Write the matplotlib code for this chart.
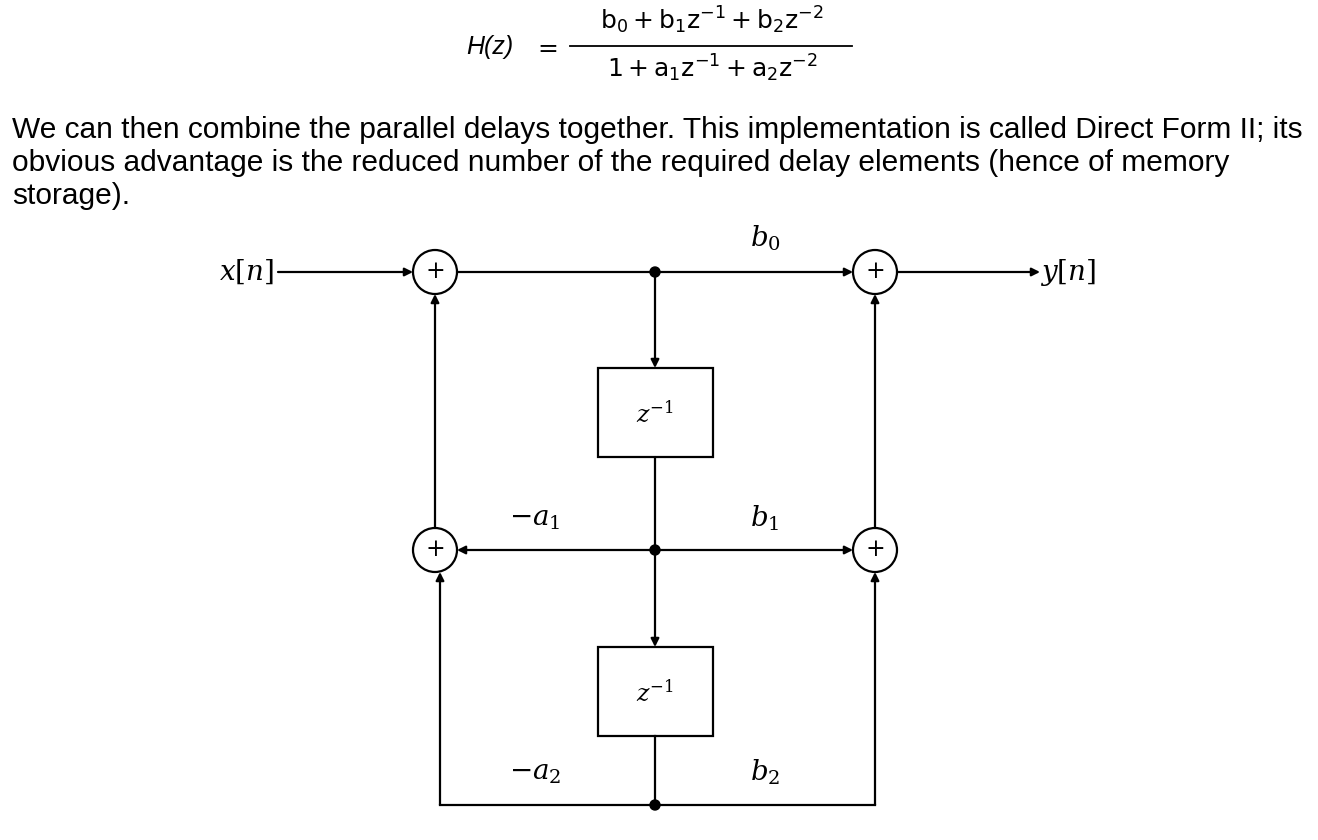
import matplotlib.pyplot as plt
from matplotlib.patches import Circle, Rectangle

# Direct Form II block diagram, drawn in pixel coordinates
paragraph = ["We can then combine the parallel delays together. This implementation is called Direct Form II; its",
             "obvious advantage is the reduced number of the required delay elements (hence of memory",
             "storage)."]
adders = [(435, 272), (875, 272), (435, 550), (875, 550)]
nodes = [(655, 272), (655, 550), (655, 805)]
delays = [(598, 368), (598, 647)]
gains = [(r"$b_0$", 765, 238), (r"$b_1$", 765, 518), (r"$b_2$", 765, 772),
         (r"$-a_1$", 535, 518), (r"$-a_2$", 535, 772)]
# (x0, y0, x1, y1, arrow)
wires = [(278, 272, 413, 272, True), (457, 272, 853, 272, True), (897, 272, 1040, 272, True),
         (655, 272, 655, 368, True), (655, 457, 655, 647, True), (655, 736, 655, 805, False),
         (440, 805, 875, 805, False), (440, 805, 440, 572, True), (435, 528, 435, 294, True),
         (655, 550, 457, 550, True), (655, 550, 853, 550, True),
         (875, 805, 875, 572, True), (875, 528, 875, 294, True)]

plt.rcParams['mathtext.fontset'] = 'dejavuserif'
fig = plt.figure(figsize=(13.18, 8.4), dpi=100)
ax = fig.add_axes([0, 0, 1, 1])
ax.set_xlim(0, 1318)
ax.set_ylim(840, 0)
ax.axis('off')

ax.text(490, 47, "H(z)", fontsize=18, ha='center', va='center', family='Liberation Sans', style='italic')
ax.text(548, 49, "=", fontsize=18, ha='center', va='center', family='DejaVu Sans')
ax.text(712, 20, r"$\mathsf{b_0 + b_1z^{-1} + b_2z^{-2}}$", fontsize=18, ha='center', va='center')
ax.text(712, 68, r"$\mathsf{1 + a_1z^{-1} + a_2z^{-2}}$", fontsize=18, ha='center', va='center')
ax.plot([570, 852], [46, 46], color='black', lw=1.3)

for i, line in enumerate(paragraph):
    ax.text(12, 130 + 33 * i, line, fontsize=21.5, family='Liberation Sans', va='center')

for x0, y0, x1, y1, arr in wires:
    if arr:
        ax.annotate('', xy=(x1, y1), xytext=(x0, y0),
                    arrowprops=dict(arrowstyle='-|>', lw=1.6, color='black',
                                    mutation_scale=12, shrinkA=0, shrinkB=0))
    else:
        ax.plot([x0, x1], [y0, y1], color='black', lw=1.6)

for cx, cy in adders:
    ax.add_patch(Circle((cx, cy), 22, fill=False, lw=1.6, color='black'))
    ax.text(cx, cy, "+", fontsize=17, ha='center', va='center', family='DejaVu Serif')

for cx, cy in nodes:
    ax.add_patch(Circle((cx, cy), 5, color='black'))

for bx, by in delays:
    ax.add_patch(Rectangle((bx, by), 115, 89, fill=False, lw=1.6, color='black'))
    ax.text(bx + 57, by + 46, r"$z^{-1}$", fontsize=17, ha='center', va='center')

for txt, gx, gy in gains:
    ax.text(gx, gy, txt, fontsize=20, ha='center', va='center')

ax.text(246, 272, r"$x[n]$", fontsize=20, ha='center', va='center')
ax.text(1068, 272, r"$y[n]$", fontsize=20, ha='center', va='center')

fig.savefig('out.png', dpi=100)
